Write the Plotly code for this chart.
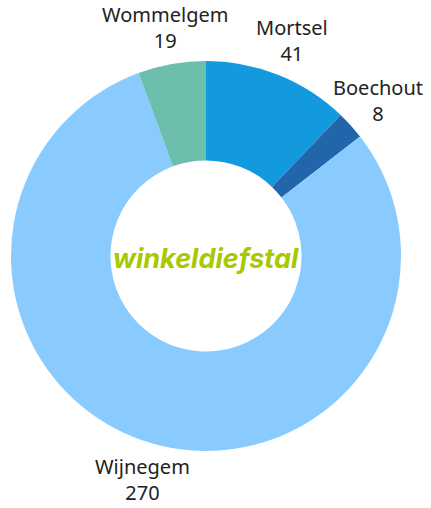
import math
import plotly.graph_objects as go

labels = ["Mortsel", "Boechout", "Wijnegem", "Wommelgem"]
values = [41, 8, 270, 19]
colors = ["#1399dd", "#2166ab", "#89cbfe", "#6bbfac"]
center_title = "winkeldiefstal"

W, H = 431, 508
cx, cy, r = 206, 256, 195
label_r = 232

fig = go.Figure(go.Pie(
    labels=labels,
    values=values,
    hole=0.49,
    sort=False,
    direction="clockwise",
    rotation=0,
    marker=dict(colors=colors, line=dict(width=0)),
    textinfo="none",
    showlegend=False,
    hoverinfo="label+value",
    domain=dict(x=[(cx - r) / W, (cx + r) / W], y=[(H - cy - r) / H, (H - cy + r) / H]),
))

# outside labels placed at each slice's mid angle
total = sum(values)
cum = 0
for lab, v in zip(labels, values):
    mid = (cum + v / 2) / total * 2 * math.pi
    cum += v
    px = cx + label_r * math.sin(mid)
    py = cy - label_r * math.cos(mid)
    fig.add_annotation(
        x=px / W, y=(H - py) / H, xref="paper", yref="paper",
        text=f"{lab}<br>{v}", showarrow=False,
        xanchor="center", yanchor="middle", align="center",
        font=dict(family="Noto Sans", size=20, color="#222222"),
    )

fig.add_annotation(
    x=cx / W, y=(H - cy - 2) / H, xref="paper", yref="paper",
    text="<b><i>" + center_title + "</i></b>", showarrow=False,
    font=dict(family="Inter", size=27, color="#a8c800"),
)

fig.update_layout(
    width=W, height=H,
    margin=dict(l=0, r=0, t=0, b=0),
    paper_bgcolor="white", plot_bgcolor="white",
)

fig.write_html("out.html", config={"displayModeBar": False},
               post_script="document.body.style.margin='0';document.body.style.overflow='hidden';")
